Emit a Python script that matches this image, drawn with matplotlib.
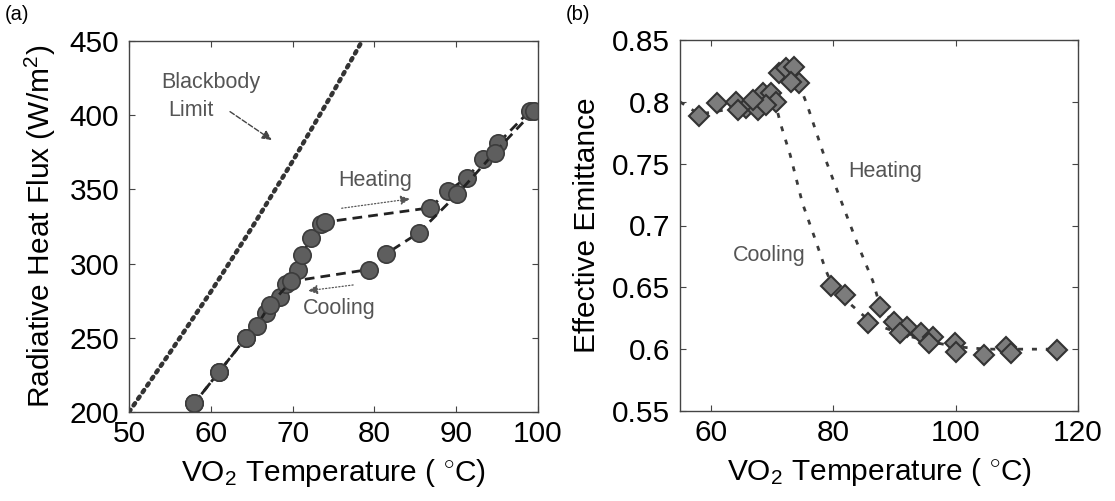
import matplotlib
matplotlib.use("Agg")
import matplotlib.pyplot as plt

plt.rcParams['font.family'] = ['Liberation Sans', 'DejaVu Sans']
plt.rcParams['mathtext.fontset'] = 'custom'
plt.rcParams['mathtext.rm'] = 'Liberation Sans'
plt.rcParams['mathtext.it'] = 'Liberation Sans:italic'
plt.rcParams['mathtext.bf'] = 'Liberation Sans:bold'

# ---- (a) radiative heat flux vs VO2 temperature ----
bb_T = [50, 55, 60, 65, 70, 75, 78.6]
bb_Q = [200, 240, 281, 324, 369, 416, 451]

heat_T = [58.0, 61.0, 64.3, 66.7, 68.4, 69.2, 70.7, 71.1, 72.3, 73.5, 74.0,
          86.8, 89.0, 91.3, 93.3, 95.1, 99.0]
heat_Q = [206, 227, 250, 267, 277.5, 286, 296, 306, 317, 327, 328,
          337.6, 348.8, 357.9, 370.3, 381, 403]

cool_T = [99.5, 94.7, 90.1, 85.4, 81.4, 79.3, 69.8, 67.2, 65.6, 64.3, 61.0, 58.0]
cool_Q = [403, 374.8, 346.6, 320.7, 306.5, 296, 288, 272, 258, 250, 227, 206]

a_xticks = [50, 60, 70, 80, 90, 100]
a_yticks = [200, 250, 300, 350, 400, 450]

# ---- (b) effective emittance vs VO2 temperature ----
heat_Tb = [58.1, 61.0, 64.2, 65.8, 67.7, 68.5, 69.9, 71.2, 72.3, 73.6, 74.4,
           87.6, 89.9, 92.1, 94.3, 96.4, 99.9, 104.7, 108.2, 116.6]
heat_Eb = [0.7885, 0.7988, 0.800, 0.7948, 0.7934, 0.8068, 0.8068, 0.823, 0.827, 0.8284, 0.815,
           0.6343, 0.6222, 0.6182, 0.6128, 0.6101, 0.6047, 0.5953, 0.602, 0.5993]
cool_Tb = [73.1, 70.7, 69.0, 66.9, 64.5, 79.6, 82.0, 85.7, 91.0, 95.6, 100.1, 109.0]
cool_Eb = [0.816, 0.800, 0.7974, 0.8015, 0.7934, 0.651, 0.6438, 0.6214, 0.6128, 0.6047, 0.5979, 0.5967]

# guide curves through the transition
heat_curve_T = [74.4, 75.8, 78.5, 81.3, 84.0, 86.5, 87.6, 90.0, 93.0, 96.0, 100.0, 105.0, 110.0, 116.6]
heat_curve_E = [0.815, 0.797, 0.757, 0.720, 0.685, 0.655, 0.636, 0.620, 0.611, 0.606, 0.602, 0.600, 0.600, 0.600]
cool_curve_T = [55.0, 58.1, 70.5, 71.5, 73.0, 75.0, 77.0, 78.8, 80.0, 82.0, 85.0, 88.0, 92.0, 96.0, 100.0]
cool_curve_E = [0.800, 0.790, 0.800, 0.781, 0.757, 0.718, 0.690, 0.664, 0.650, 0.640, 0.627, 0.618, 0.611, 0.606, 0.602]

b_xticks = [60, 80, 100, 120]
b_yticks = [0.55, 0.6, 0.65, 0.7, 0.75, 0.8, 0.85]
b_yticklabels = ['0.55', '0.6', '0.65', '0.7', '0.75', '0.8', '0.85']

xlabel = r'VO$_2$ Temperature ( $^{\circ}$C)'

TICK_FS = 21.5
ANN_FS = 15.5
ANN_C = '#555555'

fig = plt.figure(figsize=(11.15, 5.01), dpi=100)
ax1 = fig.add_axes([129 / 1115, 89 / 501, 409 / 1115, 371 / 501])
ax2 = fig.add_axes([680 / 1115, 90 / 501, 398 / 1115, 371 / 501])


def style_axes(ax):
    for s in ax.spines.values():
        s.set_color('#444444')
        s.set_linewidth(1.0)
    ax.tick_params(direction='in', length=4, width=0.8, colors='#444444',
                   labelcolor='black', labelsize=TICK_FS,
                   top=True, right=True)
    ax.tick_params(axis='x', pad=6)
    ax.tick_params(axis='y', pad=7)


# panel (a)
ax1.plot(bb_T, bb_Q, linestyle=(0, (0.6, 1.2)), color='#333333', lw=3.2,
         dash_capstyle='round')
ax1.plot(heat_T, heat_Q, linestyle=(0, (3.5, 2.2)), color='#222222', lw=2.0,
         marker='o', markersize=12.5, markerfacecolor='#5e5e5e',
         markeredgecolor='#3c3c3c', markeredgewidth=1.2)
ax1.plot(cool_T, cool_Q, linestyle=(0, (3.5, 2.2)), color='#222222', lw=2.0,
         marker='o', markersize=12.5, markerfacecolor='#5e5e5e',
         markeredgecolor='#3c3c3c', markeredgewidth=1.2)
ax1.set_xlim(50, 100)
ax1.set_ylim(200, 450)
ax1.set_xticks(a_xticks)
ax1.set_yticks(a_yticks)
style_axes(ax1)
ax1.set_xlabel(xlabel, fontsize=TICK_FS, labelpad=6)
ax1.set_ylabel('Radiative Heat Flux (W/m$^2$)', fontsize=TICK_FS, labelpad=8)

ax1.text(54.0, 421.7, 'Blackbody', fontsize=ANN_FS, color=ANN_C, va='center', ha='left')
ax1.text(54.8, 403.5, 'Limit', fontsize=ANN_FS, color=ANN_C, va='center', ha='left')
ax1.annotate('', xy=(67.45, 383.3), xytext=(62.35, 402.4),
             arrowprops=dict(arrowstyle='-|>', color='#444444', lw=1.0,
                             linestyle='--', mutation_scale=14, shrinkA=0, shrinkB=0))
ax1.text(80.1, 356.3, 'Heating', fontsize=ANN_FS, color=ANN_C, va='center', ha='center')
ax1.annotate('', xy=(84.35, 343.6), xytext=(76.0, 337.3),
             arrowprops=dict(arrowstyle='-|>', color='#555555', lw=0.9,
                             linestyle=':', mutation_scale=14, shrinkA=0, shrinkB=0))
ax1.text(75.7, 270.0, 'Cooling', fontsize=ANN_FS, color=ANN_C, va='center', ha='center')
ax1.annotate('', xy=(71.9, 281.7), xytext=(77.4, 285.6),
             arrowprops=dict(arrowstyle='-|>', color='#555555', lw=0.9,
                             linestyle=':', mutation_scale=14, shrinkA=0, shrinkB=0))

# panel (b)
ax2.plot(heat_curve_T, heat_curve_E, linestyle=(0, (1.8, 3.2)), color='#3a3a3a', lw=2.0)
ax2.plot(cool_curve_T, cool_curve_E, linestyle=(0, (1.8, 3.2)), color='#3a3a3a', lw=2.0)
ax2.plot(heat_Tb, heat_Eb, linestyle='none', marker='D', markersize=10.5,
         markerfacecolor='#7c7c7c', markeredgecolor='#333333', markeredgewidth=1.5)
ax2.plot(cool_Tb, cool_Eb, linestyle='none', marker='D', markersize=10.5,
         markerfacecolor='#7c7c7c', markeredgecolor='#333333', markeredgewidth=1.5)
ax2.set_xlim(55, 120)
ax2.set_ylim(0.55, 0.85)
ax2.set_xticks(b_xticks)
ax2.set_yticks(b_yticks)
ax2.set_yticklabels(b_yticklabels)
style_axes(ax2)
ax2.set_xlabel(xlabel, fontsize=TICK_FS, labelpad=6)
ax2.set_ylabel('Effective Emittance', fontsize=TICK_FS, labelpad=8)
ax2.text(88.5, 0.7433, 'Heating', fontsize=ANN_FS, color=ANN_C, va='center', ha='center')
ax2.text(69.6, 0.676, 'Cooling', fontsize=ANN_FS, color=ANN_C, va='center', ha='center')

fig.text(5 / 1115, 1 - 14 / 501, '(a)', fontsize=14.5, va='center', ha='left')
fig.text(566 / 1115, 1 - 14 / 501, '(b)', fontsize=14.5, va='center', ha='left')

fig.savefig('out.png', dpi=100)
